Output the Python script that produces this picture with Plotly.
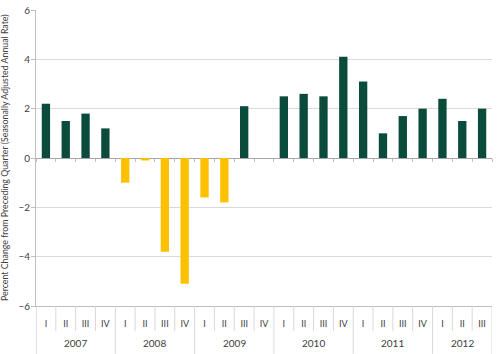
import plotly.graph_objects as go

years = ["2007", "2008", "2009", "2010", "2011", "2012"]
quarters_per_year = [["I", "II", "III", "IV"]] * 5 + [["I", "II", "III"]]
values = [2.2, 1.5, 1.8, 1.2,
          -1.0, -0.1, -3.8, -5.1,
          -1.6, -1.8, 2.1, None,
          2.5, 2.6, 2.5, 4.1,
          3.1, 1.0, 1.7, 2.0,
          2.4, 1.5, 2.0]
y_title = "Percent Change from Preceding Quarter (Seasonally Adjusted Annual Rate)"

POS = "#0B4B3C"
NEG = "#FFC000"
FONT = "Lato"
TXT = "#404040"
GRID = "#D9D9D9"
AXIS = "#BFBFBF"

cats, qlabels, year_idx = [], [], []
for y, qs in zip(years, quarters_per_year):
    start = len(cats)
    for q in qs:
        cats.append(f"{y} {q}")
        qlabels.append(q)
    year_idx.append((y, start, len(cats) - 1))

colors = [POS if (v is not None and v >= 0) else NEG for v in values]

fig = go.Figure()
fig.add_trace(go.Bar(x=cats, y=values, marker=dict(color=colors, line=dict(width=0)),
                     showlegend=False, hoverinfo="skip"))
# invisible copy on an overlay axis that draws the tick marks on the zero line
fig.add_trace(go.Bar(x=cats, y=values, xaxis="x2", marker=dict(opacity=0),
                     showlegend=False, hoverinfo="skip"))

n = len(cats)
shapes = []
for i in range(n + 1):
    b = i - 0.5
    is_year = any(b == s - 0.5 for _, s, _ in year_idx) or i == n
    shapes.append(dict(type="line", xref="x", yref="paper", x0=b, x1=b,
                       y0=0, y1=-0.162 if is_year else -0.085,
                       line=dict(color=GRID if i > 0 else AXIS, width=1)))

annotations = []
for y, s, e in year_idx:
    annotations.append(dict(x=(s + e) / 2, y=-0.125, xref="x", yref="paper",
                            text=y, showarrow=False, yanchor="middle",
                            font=dict(family=FONT, size=10, color=TXT)))
annotations.append(dict(x=0, y=0.5, xref="paper", yref="paper", xshift=-32,
                        text=y_title, textangle=-90, showarrow=False,
                        xanchor="center", yanchor="middle",
                        font=dict(family=FONT, size=8.8, color=TXT)))

fig.update_layout(
    width=500, height=354,
    margin=dict(l=36, r=8, t=10, b=48),
    paper_bgcolor="white", plot_bgcolor="white",
    bargap=0.58,
    shapes=shapes, annotations=annotations,
    xaxis=dict(type="category", categoryarray=cats, tickvals=cats, ticktext=qlabels,
               range=[-0.5, n - 0.5], showline=True, linecolor=AXIS, ticks="",
               showgrid=False, zeroline=False, ticklabelstandoff=9, automargin=False,
               tickfont=dict(family=FONT, size=9, color=TXT)),
    xaxis2=dict(type="category", categoryarray=cats, overlaying="x", anchor="free",
                position=0.5, range=[-0.5, n - 0.5], showticklabels=False,
                ticks="outside", tickson="boundaries", ticklen=3, tickcolor=AXIS,
                showline=False, showgrid=False, zeroline=False, automargin=False),
    yaxis=dict(range=[-6, 6], tickvals=[-6, -4, -2, 0, 2, 4, 6], showgrid=True,
               gridcolor=GRID, automargin=False,
               zeroline=True, zerolinecolor="#A6A6A6", zerolinewidth=1,
               showline=True, linecolor=AXIS, ticks="outside", ticklen=4, tickcolor=AXIS,
               ticklabelstandoff=-1,
               tickfont=dict(family=FONT, size=10, color=TXT)),
)

fig.write_html("out.html")
